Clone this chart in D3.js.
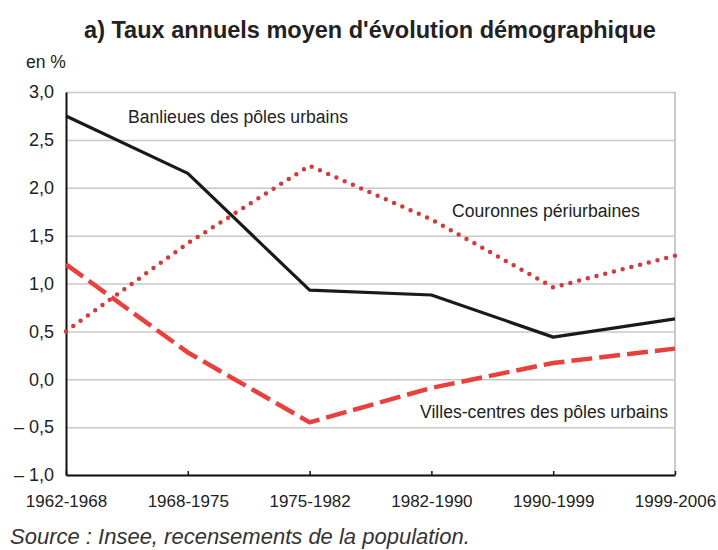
<!DOCTYPE html>
<html>
<head>
<meta charset="utf-8">
<script src="https://cdn.jsdelivr.net/npm/d3@7"></script>
<style>
  body { margin: 0; background: #fff; }
  svg { display: block; font-family: "Liberation Sans Narrow", "Arial Narrow", "Liberation Sans", sans-serif; }
</style>
</head>
<body>
<svg id="chart" width="718" height="550"></svg>
<script>
// periods on the x axis
const periods = ['1962-1968', '1968-1975', '1975-1982', '1982-1990', '1990-1999', '1999-2006'];

// annual growth rates, in %
const banlieues = [2.75, 2.15, 0.93, 0.88, 0.44, 0.63];
const couronnes = [0.50, 1.42, 2.23, 1.67, 0.96, 1.29];
const villesCentres = [1.20, 0.28, -0.45, -0.09, 0.17, 0.32];

const yTicks = [-1, -0.5, 0, 0.5, 1, 1.5, 2, 2.5, 3];

const series = [
  { name: 'Banlieues des pôles urbains', values: banlieues, color: '#1a1a1a', width: 3.2, dash: null, cap: 'butt',
    label: { x: 128, v: 2.68 } },
  { name: 'Couronnes périurbaines', values: couronnes, color: '#d13b3b', width: 4.5, dash: '0 9', cap: 'round',
    label: { x: 452, v: 1.69 } },
  { name: 'Villes-centres des pôles urbains', values: villesCentres, color: '#e8403d', width: 4.5, dash: '21 7', cap: 'butt',
    label: { x: 420, v: -0.40 } },
];

const svg = d3.select('#chart');
const margin = { top: 92, right: 43, bottom: 75, left: 66 };
const width = 718 - margin.left - margin.right;
const height = 550 - margin.top - margin.bottom;

const x = d3.scalePoint().domain(periods).range([0, width]);
const y = d3.scaleLinear().domain([-1, 3]).range([height, 0]);

const fmt = v => (v < 0 ? '\u2013 ' : '') + Math.abs(v).toFixed(1).replace('.', ',');

svg.append('text')
  .attr('x', 370).attr('y', 38)
  .attr('text-anchor', 'middle')
  .attr('font-size', 23.5).attr('font-weight', 'bold')
  .attr('fill', '#222')
  .text("a) Taux annuels moyen d'évolution démographique");

svg.append('text')
  .attr('x', 26).attr('y', 68)
  .attr('font-size', 17.5).attr('fill', '#222')
  .text('en %');

const g = svg.append('g').attr('transform', `translate(${margin.left},${margin.top})`);

// grid
g.append('g')
  .call(d3.axisLeft(y).tickValues(yTicks).tickSize(-width).tickFormat(''))
  .call(s => s.select('.domain').remove())
  .call(s => s.selectAll('line').attr('stroke', '#c8c8c8').attr('stroke-width', 1.5));

g.append('line')
  .attr('x1', width).attr('x2', width).attr('y1', 0).attr('y2', height)
  .attr('stroke', '#b8b8b8').attr('stroke-width', 1.5);

// y axis
g.append('g')
  .call(d3.axisLeft(y).tickValues(yTicks).tickSize(0).tickPadding(12).tickFormat(fmt))
  .call(s => s.select('.domain').attr('stroke', '#111').attr('stroke-width', 2))
  .call(s => s.selectAll('text').attr('font-size', 18).attr('fill', '#222').attr('font-family', null));

// x axis
g.append('g')
  .attr('transform', `translate(0,${height})`)
  .call(d3.axisBottom(x).tickSize(4).tickSizeOuter(0).tickPadding(16))
  .call(s => s.select('.domain').attr('stroke', '#111').attr('stroke-width', 2))
  .call(s => s.selectAll('line').attr('stroke', '#111').attr('stroke-width', 1.5).attr('y2', -4))
  .call(s => s.selectAll('text').attr('font-size', 17).attr('fill', '#222').attr('font-family', null));

const line = d3.line().x((d, i) => x(periods[i])).y(d => y(d));

series.forEach(s => {
  g.append('path')
    .datum(s.values)
    .attr('fill', 'none')
    .attr('stroke', s.color)
    .attr('stroke-width', s.width)
    .attr('stroke-linecap', s.cap)
    .attr('stroke-linejoin', 'round')
    .attr('stroke-dasharray', s.dash)
    .attr('d', line);

  g.append('text')
    .attr('x', s.label.x - margin.left)
    .attr('y', y(s.label.v))
    .attr('font-size', 17.6).attr('fill', '#222')
    .text(s.name);
});

svg.append('text')
  .attr('x', 10).attr('y', 544)
  .attr('font-size', 22).attr('font-style', 'italic').attr('fill', '#333')
  .text('Source : Insee, recensements de la population.');
</script>
</body>
</html>
